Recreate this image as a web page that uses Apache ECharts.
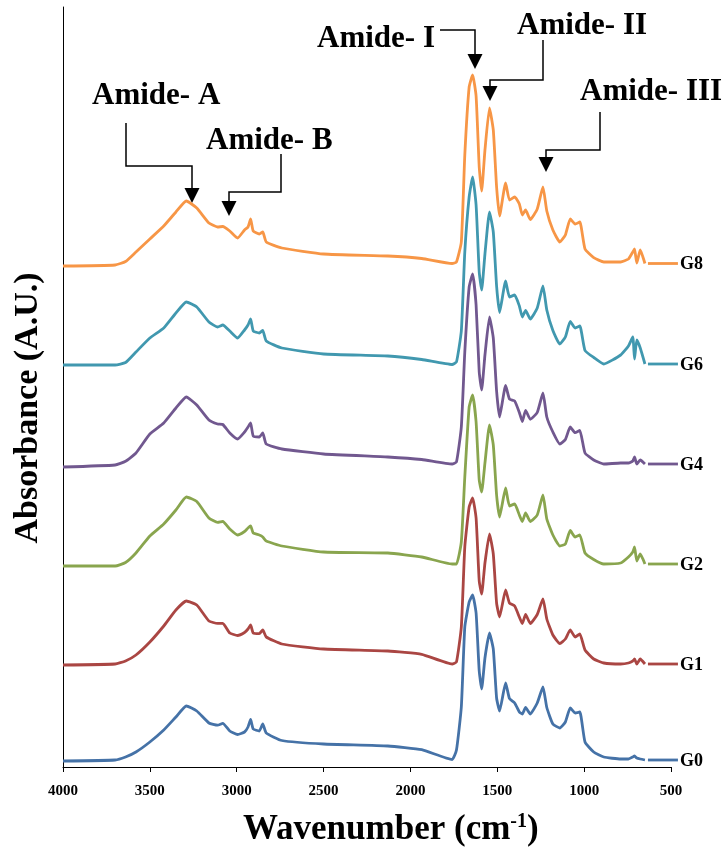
<!DOCTYPE html>
<html>
<head>
<meta charset="utf-8"/>
<title>FTIR spectra</title>
<script src="https://cdn.jsdelivr.net/npm/echarts@6/dist/echarts.min.js"></script>
<style>
html,body{margin:0;padding:0;background:#fff;}
#main{width:726px;height:856px;}
</style>
</head>
<body>
<div id="main"></div>
<script type="text/javascript">
// wavenumber (cm-1), shared by all spectra
var wavenumbers = [4000, 3700, 3640, 3580, 3500, 3420, 3350, 3290, 3230, 3160,
	3110, 3080, 3040, 2995, 2955, 2935, 2920, 2905, 2870, 2850,
	2830, 2740, 2500, 2130, 1935, 1760, 1735, 1707, 1687, 1662,
	1642, 1622, 1604, 1590, 1571, 1545, 1523, 1504, 1487, 1452,
	1430, 1400, 1373, 1356, 1337, 1310, 1270, 1237, 1215, 1180,
	1140, 1108, 1080, 1052, 1025, 995, 945, 887, 790, 745,
	720, 710, 697, 677, 650];

// absorbance of each sample (before stacking offset)
var g0 = [0.06, 0.07, 0.10, 0.15, 0.25, 0.37, 0.50, 0.61, 0.56, 0.44,
	0.418, 0.437, 0.36, 0.325, 0.35, 0.40, 0.475, 0.38, 0.36, 0.43,
	0.34, 0.265, 0.23, 0.21, 0.173, 0.075, 0.17, 0.60, 1.40, 1.65,
	1.72, 1.54, 0.96, 0.78, 1.09, 1.34, 1.18, 0.69, 0.56, 0.84,
	0.685, 0.64, 0.55, 0.53, 0.595, 0.53, 0.64, 0.80, 0.595, 0.43,
	0.39, 0.45, 0.59, 0.54, 0.55, 0.25, 0.15, 0.10, 0.08, 0.08,
	0.10, 0.11, 0.09, 0.08, 0.07];
var g1 = [0.02, 0.03, 0.06, 0.12, 0.25, 0.41, 0.57, 0.66, 0.62, 0.46,
	0.436, 0.436, 0.34, 0.315, 0.345, 0.38, 0.42, 0.34, 0.334, 0.37,
	0.30, 0.23, 0.18, 0.16, 0.127, 0.03, 0.05, 0.40, 1.20, 1.60,
	1.69, 1.49, 0.86, 0.73, 1.04, 1.33, 1.13, 0.64, 0.50, 0.77,
	0.64, 0.61, 0.50, 0.435, 0.525, 0.435, 0.525, 0.68, 0.48, 0.32,
	0.235, 0.28, 0.37, 0.30, 0.33, 0.17, 0.08, 0.04, 0.03, 0.04,
	0.06, 0.08, 0.03, 0.08, 0.03];
var g2 = [0.01, 0.01, 0.045, 0.14, 0.31, 0.43, 0.57, 0.70, 0.655, 0.49,
	0.446, 0.455, 0.38, 0.32, 0.355, 0.39, 0.41, 0.34, 0.32, 0.30,
	0.26, 0.21, 0.15, 0.14, 0.10, 0.03, 0.03, 0.25, 0.90, 1.60,
	1.72, 1.45, 0.87, 0.75, 1.04, 1.42, 1.22, 0.72, 0.50, 0.79,
	0.61, 0.63, 0.52, 0.455, 0.54, 0.455, 0.52, 0.72, 0.48, 0.32,
	0.21, 0.23, 0.365, 0.30, 0.32, 0.14, 0.075, 0.03, 0.04, 0.10,
	0.15, 0.20, 0.06, 0.13, 0.03];
var g4 = [0.0, 0.02, 0.057, 0.14, 0.33, 0.44, 0.59, 0.70, 0.62, 0.47,
	0.43, 0.425, 0.34, 0.28, 0.35, 0.40, 0.44, 0.31, 0.30, 0.34,
	0.23, 0.18, 0.13, 0.10, 0.075, 0.03, 0.05, 0.40, 1.15, 1.80,
	1.93, 1.62, 0.95, 0.77, 1.12, 1.50, 1.29, 0.76, 0.50, 0.815,
	0.68, 0.66, 0.545, 0.455, 0.567, 0.477, 0.545, 0.74, 0.50, 0.35,
	0.23, 0.275, 0.40, 0.343, 0.365, 0.14, 0.07, 0.03, 0.04, 0.04,
	0.06, 0.10, 0.03, 0.07, 0.03];
var g6 = [0.02, 0.02, 0.045, 0.15, 0.29, 0.39, 0.54, 0.65, 0.60, 0.45,
	0.40, 0.42, 0.36, 0.29, 0.37, 0.42, 0.48, 0.36, 0.34, 0.365,
	0.26, 0.19, 0.13, 0.11, 0.075, 0.025, 0.05, 0.36, 1.15, 1.70,
	1.90, 1.62, 0.95, 0.77, 1.13, 1.55, 1.35, 0.81, 0.545, 0.86,
	0.70, 0.72, 0.61, 0.50, 0.565, 0.48, 0.59, 0.81, 0.57, 0.365,
	0.23, 0.30, 0.455, 0.39, 0.41, 0.165, 0.095, 0.03, 0.12, 0.21,
	0.30, 0.08, 0.27, 0.19, 0.03];
var g8 = [0.01, 0.02, 0.055, 0.15, 0.28, 0.41, 0.55, 0.66, 0.59, 0.44,
	0.40, 0.405, 0.36, 0.29, 0.37, 0.40, 0.48, 0.36, 0.33, 0.35,
	0.25, 0.19, 0.13, 0.11, 0.085, 0.035, 0.05, 0.25, 1.12, 1.80,
	1.92, 1.71, 1.00, 0.76, 1.17, 1.59, 1.37, 0.80, 0.51, 0.84,
	0.67, 0.70, 0.63, 0.52, 0.57, 0.475, 0.58, 0.80, 0.56, 0.37,
	0.25, 0.32, 0.48, 0.43, 0.45, 0.18, 0.094, 0.05, 0.05, 0.08,
	0.15, 0.18, 0.04, 0.17, 0.035];

var sampleNames = ['G0', 'G1', 'G2', 'G4', 'G6', 'G8'];
var sampleData = [g0, g1, g2, g4, g6, g8];
var offsets = [0, 1, 2, 3, 4, 5];
var colors = ['#4572A7', '#AA4643', '#89A54E', '#71588F', '#4198AF', '#F79646'];

// band annotations: label, text position, arrow elbow path (pixels)
var bands = [
	{text: 'Amide- A', x: 92, y: 96, path: [[126, 123], [126, 166], [192, 166], [192, 188]]},
	{text: 'Amide- B', x: 206, y: 141, path: [[281, 154], [281, 192], [229, 192], [229, 201]]},
	{text: 'Amide- I', x: 317, y: 39, path: [[440, 30], [475, 30], [475, 54]]},
	{text: 'Amide- II', x: 517, y: 26, path: [[543, 40], [543, 80], [490, 80], [490, 86]]},
	{text: 'Amide- III', x: 580, y: 92, path: [[600, 112], [600, 150], [546, 150], [546, 157]]}
];

var serif = 'Liberation Serif, Times New Roman, serif';

var myChart = echarts.init(document.getElementById('main'));

var series = [];
for (var s = 0; s < sampleNames.length; s++) {
	var pts = [];
	for (var i = 0; i < wavenumbers.length; i++) {
		pts.push([wavenumbers[i], offsets[s] + sampleData[s][i]]);
	}
	series.push({
		name: sampleNames[s],
		type: 'line',
		data: pts,
		showSymbol: false,
		smooth: 0.15,
		silent: true,
		lineStyle: {color: colors[s], width: 2.8},
		itemStyle: {color: colors[s]},
		z: 2
	});
}

var option = {
	animation: false,
	grid: {left: 63, right: 55, top: 7, bottom: 89},
	xAxis: {
		type: 'value',
		inverse: true,
		min: 500,
		max: 4000,
		interval: 500,
		splitLine: {show: false},
		axisLine: {lineStyle: {color: '#000', width: 1}},
		axisTick: {inside: false, length: 5, lineStyle: {color: '#000'}},
		axisLabel: {
			color: '#000', fontFamily: serif, fontWeight: 'bold', fontSize: 15, margin: 17,
			formatter: function (v) { return String(v); }
		}
	},
	yAxis: {
		type: 'value',
		min: 0,
		max: 7.6,
		splitLine: {show: false},
		axisLine: {show: true, lineStyle: {color: '#000', width: 1}},
		axisTick: {show: false},
		axisLabel: {show: false}
	},
	series: series
};
myChart.setOption(option);

// axis titles, end keys (short line + sample name) and band arrows
var graphics = [];
graphics.push({
	type: 'text', silent: true, x: 243, y: 830,
	style: {
		text: 'Wavenumber (cm{sup|-1})', fill: '#000', font: 'bold 35px ' + serif, verticalAlign: 'middle',
		rich: {sup: {font: 'bold 20px ' + serif, verticalAlign: 'top', padding: [0, 0, 16, 0]}}
	}
});
graphics.push({
	type: 'text', silent: true, x: 28, y: 408, rotation: Math.PI / 2,
	style: {text: 'Absorbance (A.U.)', fill: '#000', font: 'bold 34px ' + serif, align: 'center', verticalAlign: 'middle'}
});
for (var s = 0; s < sampleNames.length; s++) {
	var last = wavenumbers.length - 1;
	var p = myChart.convertToPixel({gridIndex: 0}, [wavenumbers[last], offsets[s] + sampleData[s][last]]);
	graphics.push({
		type: 'line', silent: true,
		shape: {x1: p[0] + 3, y1: p[1], x2: p[0] + 33, y2: p[1]},
		style: {stroke: colors[s], lineWidth: 2.8}
	});
	graphics.push({
		type: 'text', silent: true, x: p[0] + 35, y: p[1] + 1,
		style: {text: sampleNames[s], fill: '#000', font: 'bold 18px ' + serif, verticalAlign: 'middle'}
	});
}
bands.forEach(function (b) {
	graphics.push({
		type: 'text', silent: true, x: b.x, y: b.y,
		style: {text: b.text, fill: '#000', font: 'bold 31px ' + serif, verticalAlign: 'middle'}
	});
	graphics.push({
		type: 'polyline', silent: true,
		shape: {points: b.path},
		style: {stroke: '#000', lineWidth: 1.5, fill: null}
	});
	var tip = b.path[b.path.length - 1];
	graphics.push({
		type: 'polygon', silent: true,
		shape: {points: [[tip[0] - 7.5, tip[1]], [tip[0] + 7.5, tip[1]], [tip[0], tip[1] + 15]]},
		style: {fill: '#000'}
	});
});
myChart.setOption({graphic: graphics});
</script>
</body>
</html>
